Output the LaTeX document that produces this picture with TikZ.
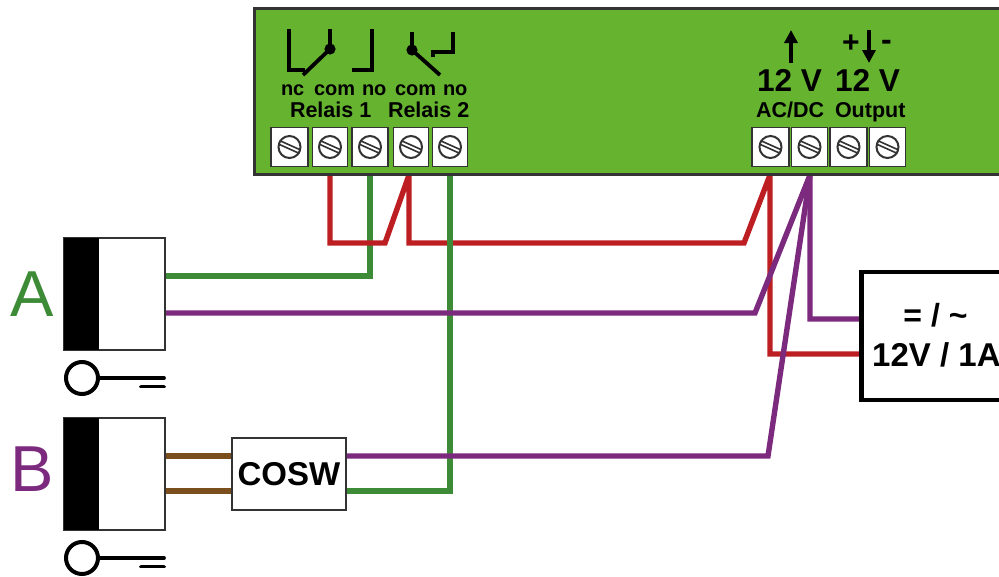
\documentclass[tikz,border=0pt]{standalone}
\usepackage{fontspec}
\setmainfont{Liberation Sans}
\usetikzlibrary{backgrounds,arrows.meta}
\definecolor{boxgreen}{HTML}{66B32F}
\definecolor{wred}{HTML}{BC1E22}
\definecolor{wgreen}{HTML}{3E8B37}
\definecolor{wpurple}{HTML}{7C2A7E}
\definecolor{wbrown}{HTML}{7B4F1D}
\definecolor{dk}{HTML}{333333}
\tikzset{
  wire/.style={line width=5.4pt,line join=miter,line cap=butt},
  symb/.style={line width=3.8pt,black,line cap=butt,line join=miter},
  termbox/.style={draw=dk,fill=white,line width=1.8pt,minimum height=39pt,inner sep=0pt,outer sep=0pt},
  lockbody/.style={draw=dk,fill=white,line width=1.4pt,minimum width=101pt,minimum height=112pt,inner sep=0pt,outer sep=0pt},
  lockcore/.style={fill=black,minimum width=35pt,minimum height=112pt,inner sep=0pt,outer sep=0pt},
  keyring/.style={circle,draw=black,line width=4pt,fill=white,minimum size=32pt,inner sep=0pt,outer sep=0pt},
  keyline/.style={line width=3.8pt,line cap=round},
  lab/.style={anchor=base west,inner sep=0pt,outer sep=0pt,font=\bfseries\fontsize{20}{24}\selectfont},
  sublab/.style={anchor=base west,inner sep=0pt,outer sep=0pt,font=\bfseries\fontsize{21.5}{24}\selectfont},
  biglab/.style={anchor=base west,inner sep=0pt,outer sep=0pt,font=\bfseries\fontsize{31.6}{36}\selectfont},
  letter/.style={anchor=base west,inner sep=0pt,outer sep=0pt,font=\fontsize{65}{70}\selectfont},
}
\newcommand{\terminal}[3]{%
  \node[termbox,minimum width=#3pt] (#1) at (#2,147) {};
  \node[circle,draw=dk,fill=white,line width=2pt,minimum size=22pt,inner sep=0pt] (#1s) at (#2,147) {};
  \draw[dk,line width=1.6pt] ([shift={(-10,-6.5)}]#2,147) -- ([shift={(10,2.5)}]#2,147);
  \draw[dk,line width=1.6pt] ([shift={(-10,-2.5)}]#2,147) -- ([shift={(10,6.5)}]#2,147);
}
\begin{document}
\begin{tikzpicture}[x=1pt,y=-1pt]
\useasboundingbox (0,0) rectangle (999,576);
% main unit
\node[draw=dk,fill=boxgreen,line width=3pt,minimum width=766pt,minimum height=166pt,inner sep=0pt,outer sep=0pt] (unit) at (637,91) {};
% terminals
\terminal{tA}{289.5}{37}
\terminal{tB}{330}{35}
\terminal{tC}{370}{36}
\terminal{tD}{411}{35}
\terminal{tE}{450}{35}
\terminal{tF}{770.5}{37}
\terminal{tG}{809.5}{36}
\terminal{tH}{848.5}{37}
\terminal{tI}{887.5}{36}
% relay symbols
\draw[symb] (289,29) -- (289,70) -- (305,70);
\draw[symb] (303,75) -- (330,49);
\draw[symb] (330,29) -- (330,49);
\fill (330,49) circle (5.6);
\draw[symb] (372,29) -- (372,70) -- (352,70);
\draw[symb] (412,32) -- (412,50);
\fill (412,50) circle (5.6);
\draw[symb] (412,50) -- (440,75);
\draw[symb] (453,32) -- (453,52) -- (433,52) -- (433,57);
% relay labels
\node[lab] (nc) at (281,95) {nc};
\node[lab] (com1) at (314,95) {com};
\node[lab] (no1) at (362,95) {no};
\node[lab] (com2) at (395,95) {com};
\node[lab] (no2) at (443,95) {no};
\node[sublab] (rel1) at (290,117) {Relais 1};
\node[sublab] (rel2) at (388,117) {Relais 2};
% power labels
\draw[symb,-{Triangle[length=13pt,width=13pt]}] (791,63) -- (791,30);
\draw[symb,-{Triangle[length=13pt,width=13pt]}] (869,30) -- (869,63);
\node[anchor=center,inner sep=0pt,font=\bfseries\fontsize{30}{30}\selectfont] (plus) at (851,44) {+};
\node[anchor=center,inner sep=0pt,font=\bfseries\fontsize{32}{30}\selectfont] (minus) at (886.5,45) {-};
\node[biglab] (v1) at (757,91) {12 V};
\node[biglab] (v2) at (835,91) {12 V};
\node[sublab] (acdc) at (756,117) {AC/DC};
\node[sublab] (outp) at (835,117) {Output};
% locks
\node[lockbody] (lockA) at (114.5,294) {};
\node[lockcore] (coreA) at (81.5,294) {};
\node[lockbody] (lockB) at (114.5,474) {};
\node[lockcore] (coreB) at (81.5,474) {};
\node[letter,text=wgreen] (la) at (10,316) {A};
\node[letter,text=wpurple] (lb) at (10.5,491) {B};
% keys
\node[keyring] (keyA) at (82,378) {};
\coordinate (keyAend) at (164,378);
\draw[keyline] (keyA.east) -- (keyAend);
\coordinate (a1) at (141,386.5); \coordinate (a2) at (164,386.5);
\draw[keyline] (a1) -- (a2);
\node[keyring] (keyB) at (82,558) {};
\coordinate (keyBend) at (164,558);
\draw[keyline] (keyB.east) -- (keyBend);
\coordinate (b1) at (141,566.5); \coordinate (b2) at (164,566.5);
\draw[keyline] (b1) -- (b2);
% cosw
\node[draw=dk,fill=white,line width=1.6pt,minimum width=114pt,minimum height=72pt,inner sep=0pt,outer sep=0pt,font=\bfseries\fontsize{33}{36}\selectfont] (cosw) at (289,474) {COSW};
% power supply
\node[draw=black,fill=white,line width=4.8pt,minimum width=160pt,minimum height=128pt,inner sep=0pt,outer sep=0pt] (psu) at (941.5,336) {};
\node[anchor=center,inner sep=0pt,font=\bfseries\fontsize{32}{30}\selectfont] (psu1) at (935.5,315) {= / \char`\~};
\node[anchor=base west,inner sep=0pt,font=\bfseries\fontsize{33}{36}\selectfont] (psu2) at (872,366) {12V / 1A};
% wires, behind everything
\coordinate (r1) at (330,243); \coordinate (r2) at (385,243);
\coordinate (r3) at (409,243); \coordinate (r4) at (744,243);
\coordinate (gA) at (371,276);
\coordinate (pA) at (755,313);
\coordinate (pC) at (810,319);
\coordinate (rC) at (770,354);
\coordinate (pB) at (768,456);
\coordinate (gB) at (451,491);
\coordinate (hub) at (810,175);
\coordinate (hubR) at (770,175);
\coordinate (hubD) at (409,175);
\coordinate (brA) at (0,456);
\coordinate (brB) at (0,491);
\begin{scope}[on background layer]
\draw[wire,wgreen] (tC.south) -- (tC.south |- gA) -- (lockA.east |- gA);
\draw[wire,wred] (tB.south) -- (r1) -- (r2) -- (hubD) -- (r3) -- (r4) -- (hubR) -- (rC) -- (psu.west |- rC);
\draw[wire,wgreen] (tE.south) -- (tE.south |- gB) -- (cosw.east |- gB);
\draw[wire,wpurple] (lockA.east |- pA) -- (pA) -- (hub) -- (pC) -- (psu.west |- pC);
\draw[wire,wpurple] (cosw.east |- pB) -- (pB) -- (hub);
\draw[wire,wbrown] (lockB.east |- brA) -- (cosw.west |- brA);
\draw[wire,wbrown] (lockB.east |- brB) -- (cosw.west |- brB);
\end{scope}
\end{tikzpicture}
\end{document}
